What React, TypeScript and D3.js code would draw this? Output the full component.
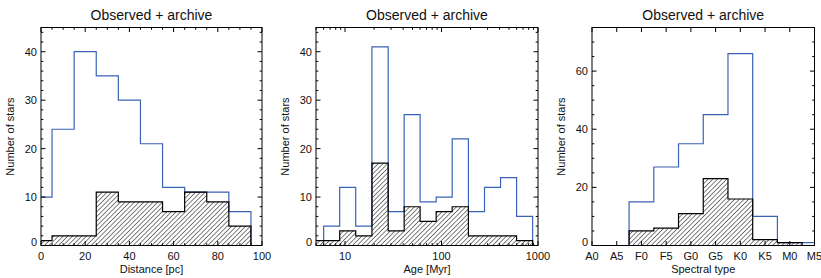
import React from "react";
import * as d3 from "d3";

// values
const titleText = "Observed + archive";
const yLabel = "Number of stars";

const distCenters = [0, 10, 20, 30, 40, 50, 60, 70, 80, 90];
const distAll = [10, 24, 40, 35, 30, 21, 12, 11, 11, 7];
const distObs = [1, 2, 2, 11, 9, 9, 7, 11, 9, 4];
const distTicks = [0, 20, 40, 60, 80, 100];

const ageEdges = [4.1, 6, 8.8, 12.9, 19, 28, 41, 60, 88, 129, 190, 279, 409, 600, 880];
const ageAll = [0, 4, 12, 4, 41, 7, 27, 9, 10, 22, 7, 12, 14, 6];
const ageObs = [1, 1, 3, 2, 17, 3, 8, 5, 7, 8, 2, 2, 2, 1];
const ageTicks = [10, 100, 1000];

const spTypes = ["A0", "A5", "F0", "F5", "G0", "G5", "K0", "K5", "M0", "M5"];
const spAll = [0, 0, 15, 27, 35, 45, 66, 10, 1, 1];
const spObs = [0, 0, 5, 6, 11, 23, 16, 2, 1, 0];

const countTicksA = [0, 10, 20, 30, 40];
const countTicksB = [0, 20, 40, 60];

const W = 821;
const H = 278;
const top = 27.5;
const bottom = 245.5;
const font = "'Liberation Sans', Arial, Helvetica, sans-serif";
const blue = "#3a62b6";
const majLen = 4.5;
const minLen = 2.3;

type Tick = { v: any; label?: string };

function histPoints(edges: number[], vals: number[]): [number, number][] {
  const pts: [number, number][] = [[edges[0], 0]];
  vals.forEach((v, i) => {
    pts.push([edges[i], v]);
    pts.push([edges[i + 1], v]);
  });
  pts.push([edges[edges.length - 1], 0]);
  return pts;
}

function Panel(props: {
  id: string;
  left: number;
  right: number;
  x: (v: any) => number;
  xMajor: Tick[];
  xMinor: any[];
  yMax: number;
  yMajor: number[];
  yMinor: number[];
  edges: number[];
  all: number[];
  obs: number[];
  xLabel: string;
}) {
  const { id, left, right, x, xMajor, xMinor, yMax, yMajor, yMinor, edges, all, obs, xLabel } = props;
  const y = d3.scaleLinear().domain([0, yMax]).range([bottom, top]);
  const line = d3
    .line<[number, number]>()
    .x((d) => x(d[0]))
    .y((d) => y(d[1]));
  const allPath = line(histPoints(edges, all)) || "";
  const obsPath = line(histPoints(edges, obs)) || "";
  const cx = (left + right) / 2;
  const cy = (top + bottom) / 2;

  return (
    <g>
      <defs>
        <clipPath id={"clip-" + id}>
          <rect x={left} y={top} width={right - left} height={bottom - top} />
        </clipPath>
      </defs>
      <g clipPath={`url(#clip-${id})`}>
        <path d={allPath} fill="none" stroke={blue} strokeWidth={1.2} />
        <path d={obsPath} fill="url(#hatch)" stroke="#000" strokeWidth={1.2} />
      </g>
      <rect x={left} y={top} width={right - left} height={bottom - top} fill="none" stroke="#000" strokeWidth={1} />
      {/* x ticks, bottom and top */}
      {xMajor.map((t, i) => (
        <g key={"xm" + i}>
          <line x1={x(t.v)} x2={x(t.v)} y1={bottom} y2={bottom - majLen} stroke="#000" />
          <line x1={x(t.v)} x2={x(t.v)} y1={top} y2={top + majLen} stroke="#000" />
          <text x={x(t.v)} y={259.5} textAnchor="middle" fontSize={11} fontFamily={font} fill="#111">
            {t.label}
          </text>
        </g>
      ))}
      {xMinor.map((v, i) => (
        <g key={"xn" + i}>
          <line x1={x(v)} x2={x(v)} y1={bottom} y2={bottom - minLen} stroke="#000" />
          <line x1={x(v)} x2={x(v)} y1={top} y2={top + minLen} stroke="#000" />
        </g>
      ))}
      {/* y ticks, left and right */}
      {yMajor.map((v) => (
        <g key={"ym" + v}>
          <line x1={left} x2={left + majLen} y1={y(v)} y2={y(v)} stroke="#000" />
          <line x1={right} x2={right - majLen} y1={y(v)} y2={y(v)} stroke="#000" />
          <text
            x={left - 4}
            y={Math.min(y(v), bottom - 3.6) + 4}
            textAnchor="end"
            fontSize={11}
            fontFamily={font}
            fill="#111"
          >
            {v}
          </text>
        </g>
      ))}
      {yMinor.map((v) => (
        <g key={"yn" + v}>
          <line x1={left} x2={left + minLen} y1={y(v)} y2={y(v)} stroke="#000" />
          <line x1={right} x2={right - minLen} y1={y(v)} y2={y(v)} stroke="#000" />
        </g>
      ))}
      <text x={cx} y={20} textAnchor="middle" fontSize={14} fontFamily={font} fill="#111">
        {titleText}
      </text>
      <text x={cx} y={272.5} textAnchor="middle" fontSize={11} fontFamily={font} fill="#111">
        {xLabel}
      </text>
      <text
        transform={`translate(${left - 27},${cy}) rotate(-90)`}
        textAnchor="middle"
        fontSize={11}
        fontFamily={font}
        fill="#111"
      >
        {yLabel}
      </text>
    </g>
  );
}

export default function App() {
  // panel 1: distance
  const x1 = d3.scaleLinear().domain([0, 100]).range([41, 262]);
  const distEdges = distCenters.map((c) => c - 5).concat([distCenters[distCenters.length - 1] + 5]);
  const distMinor = d3.range(0, 101, 5).filter((v) => !distTicks.includes(v));

  // panel 2: age (log)
  const x2 = d3.scaleLog().domain([5, 1000]).range([316, 538]);
  const ageMinor = x2.ticks().filter((v) => !ageTicks.includes(v));

  // panel 3: spectral type
  const x3p = d3.scalePoint<string>().domain(spTypes).range([592, 814.5]);
  const step = x3p.step();
  const x3 = d3.scaleLinear().domain([0, spTypes.length - 1]).range([592, 814.5]);
  const spEdges = d3.range(spTypes.length + 1).map((i) => i - 0.5);

  return (
    <svg width={W} height={H} style={{ position: "absolute", left: 0, top: 0, background: "#fff" }}>
      <defs>
        <pattern id="hatch" patternUnits="userSpaceOnUse" width={3.3} height={3.3} patternTransform="rotate(45)">
          <line x1={0} y1={0} x2={0} y2={3.3} stroke="#000" strokeWidth={1} />
        </pattern>
      </defs>
      <Panel
        id="dist"
        left={41}
        right={262}
        x={x1}
        xMajor={distTicks.map((v) => ({ v, label: String(v) }))}
        xMinor={distMinor}
        yMax={45}
        yMajor={countTicksA}
        yMinor={d3.range(0, 46, 2).filter((v) => v % 10 !== 0)}
        edges={distEdges}
        all={distAll}
        obs={distObs}
        xLabel="Distance [pc]"
      />
      <Panel
        id="age"
        left={316}
        right={538}
        x={x2}
        xMajor={ageTicks.map((v) => ({ v, label: String(v) }))}
        xMinor={ageMinor}
        yMax={45}
        yMajor={countTicksA}
        yMinor={d3.range(0, 46, 2).filter((v) => v % 10 !== 0)}
        edges={ageEdges}
        all={ageAll}
        obs={ageObs}
        xLabel="Age [Myr]"
      />
      <Panel
        id="sp"
        left={592}
        right={814.5}
        x={(v: number) => x3(v)}
        xMajor={spTypes.map((s) => ({ v: (x3p(s)! - 592) / step, label: s }))}
        xMinor={[]}
        yMax={75}
        yMajor={countTicksB}
        yMinor={d3.range(0, 76, 5).filter((v) => v % 20 !== 0)}
        edges={spEdges}
        all={spAll}
        obs={spObs}
        xLabel="Spectral type"
      />
    </svg>
  );
}
